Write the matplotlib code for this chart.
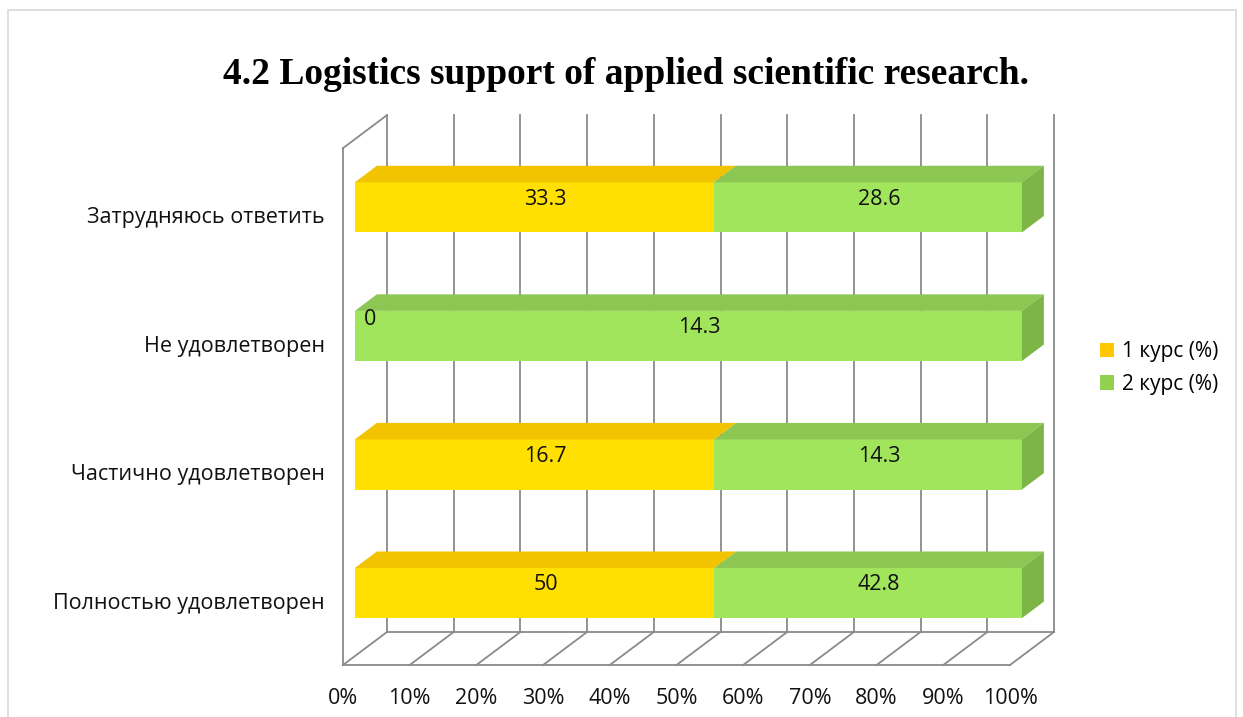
import numpy as np
import matplotlib.pyplot as plt
from matplotlib.patches import Polygon, Rectangle, Patch

# data
categories = ['Полностью удовлетворен', 'Частично удовлетворен',
              'Не удовлетворен', 'Затрудняюсь ответить']
course1 = [50, 16.7, 0, 33.3]
course2 = [42.8, 14.3, 14.3, 28.6]
series_names = ['1 курс (%)', '2 курс (%)']
x_ticks = np.arange(0, 101, 10)
tick_labels = [f'{t}%' for t in x_ticks]
title = '4.2 Logistics support of applied scientific research.'

# colours: front, top, side for each series + legend swatch
front_cols = ['#FFE000', '#A0E55B']
top_cols = ['#F2C300', '#8CC653']
side_cols = ['#E0B400', '#7DB547']
legend_cols = ['#FFC800', '#92D050']
grid_col = '#8A8A8A'

plt.rcParams['font.family'] = ['Open Sans', 'DejaVu Sans']
fs = 15.5

W, H = 1243, 717
fig = plt.figure(figsize=(W / 100, H / 100), dpi=100)
ax = fig.add_axes([343 / W, (H - 665) / H, 667 / W, (665 - 152) / H])
y_floor, y_top = -0.49, 3.53
ax.set_xlim(0, 100)
ax.set_ylim(y_floor, 3.5)
ax.axis('off')

# depth vector in data units
DX, DY = 6.6, 0.257
d0, d1, dm = 0.27, 0.77, 0.52
bar_h = 0.39


def line(xs, ys, **kw):
    ax.plot(xs, ys, color=grid_col, lw=1.3, clip_on=False, zorder=1, **kw)


# left wall
line([0, 0], [y_floor, y_top])
line([0, DX], [y_top, y_top + DY])
# back wall gridlines + floor
for t in x_ticks:
    line([t + DX, t + DX], [y_floor + DY, y_top + DY])
    line([t, t + DX], [y_floor, y_floor + DY])
line([0, 100], [y_floor, y_floor])
line([DX, 100 + DX], [y_floor + DY, y_floor + DY])

# bars (100% stacked)
c1 = np.array(course1)
c2 = np.array(course2)
tot = c1 + c2
for i in range(len(categories)):
    shares = [c1[i] / tot[i] * 100, c2[i] / tot[i] * 100]
    vals = [course1[i], course2[i]]
    left = 0
    for s in range(2):
        right = left + shares[s]
        b0 = i - bar_h / 2 + d0 * DY
        t0 = i + bar_h / 2 + d0 * DY
        t1 = i + bar_h / 2 + d1 * DY
        b1 = i - bar_h / 2 + d1 * DY
        if shares[s] > 0:
            ax.add_patch(Polygon([(left + d0 * DX, b0), (right + d0 * DX, b0),
                                  (right + d0 * DX, t0), (left + d0 * DX, t0)],
                                 closed=True, fc=front_cols[s], ec='none',
                                 clip_on=False, zorder=3))
            ax.add_patch(Polygon([(left + d0 * DX, t0), (right + d0 * DX, t0),
                                  (right + d1 * DX, t1), (left + d1 * DX, t1)],
                                 closed=True, fc=top_cols[s], ec='none',
                                 clip_on=False, zorder=3))
            if s == 1:
                ax.add_patch(Polygon([(right + d0 * DX, b0), (right + d0 * DX, t0),
                                      (right + d1 * DX, t1), (right + d1 * DX, b1)],
                                     closed=True, fc=side_cols[s], ec='none',
                                     clip_on=False, zorder=3))
        lbl = f'{vals[s]:g}'
        cx = (left + right) / 2 + dm * DX
        cy = i + dm * DY
        if shares[s] == 0:
            ax.text(cx + 0.6, cy - 0.02, lbl, ha='center', va='bottom',
                    fontsize=fs, color='#111111', zorder=5)
        else:
            ax.text(cx, cy, lbl, ha='center', va='center',
                    fontsize=fs, color='#111111', zorder=5)
        left = right

# category labels
for i, c in enumerate(categories):
    ax.text(-2.7, i - 0.01, c, ha='right', va='center', fontsize=fs,
            color='#111111', clip_on=False)

# x tick labels
for t, lab in zip(x_ticks, tick_labels):
    ax.text(t, y_floor - 0.26, lab, ha='center', va='center', fontsize=fs,
            color='#111111', clip_on=False)

fig.text(626 / W, 1 - 75 / H, title, ha='center', va='center',
         fontsize=27, fontweight='bold', family='Liberation Serif')

handles = [Patch(fc=legend_cols[k], ec='none', label=series_names[k]) for k in range(2)]
fig.legend(handles=handles, loc='center left',
           bbox_to_anchor=(1081 / W, 1 - 368 / H), frameon=False,
           handlelength=0.7, handleheight=0.7, handletextpad=0.35,
           labelspacing=0.55, fontsize=15)

fig.patches.append(Rectangle((8 / W, -0.1), (1236 - 8) / W, 1.1 - 10 / H,
                             transform=fig.transFigure, fill=False,
                             ec='#D9D9D9', lw=1.2))

fig.savefig('out.png', dpi=100)
